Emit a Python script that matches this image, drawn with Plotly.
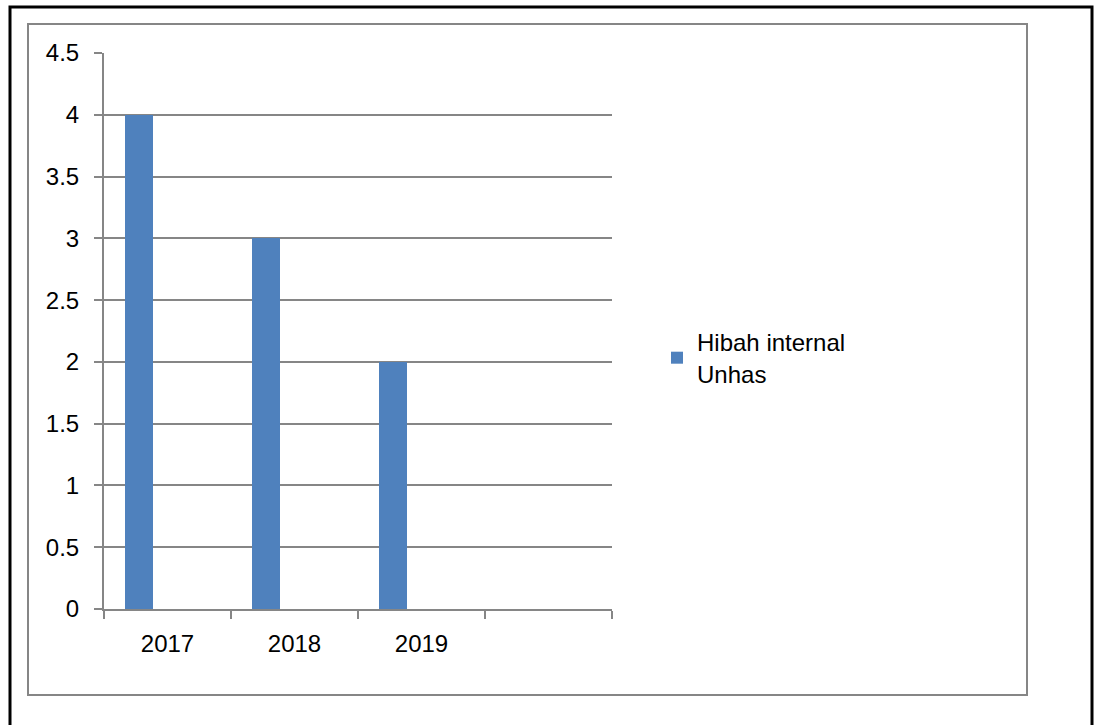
import plotly.graph_objects as go

years = ["2017", "2018", "2019"]
values = [4, 3, 2]
series_name = "Hibah internal<br>Unhas"
y_ticks = [0, 0.5, 1, 1.5, 2, 2.5, 3, 3.5, 4, 4.5]

W, H = 1095, 725
L, R, T, B = 104, 612, 53, 609

def px_x(p):
    return (p - L) / (R - L)

def px_y(p):
    return (B - p) / (B - T)

xpos = list(range(len(years)))

fig = go.Figure()
fig.add_trace(go.Bar(
    x=xpos, y=values, name=series_name,
    width=0.2222, offset=-0.3333,
    marker=dict(color="#4F81BD", line=dict(width=0)),
    showlegend=True,
))

grey = "#868686"
font = dict(family="Liberation Sans, Arial, sans-serif", size=24, color="#000000")

fig.update_layout(
    width=W, height=H,
    margin=dict(l=L, r=W - R, t=T, b=H - B, pad=0),
    paper_bgcolor="white", plot_bgcolor="white",
    font=font,
    bargap=0,
    showlegend=True,
    legend=dict(x=px_x(657), y=px_y(320), xanchor="left", yanchor="top",
                font=font, bgcolor="rgba(0,0,0,0)", itemwidth=30,
                tracegroupgap=0),
    xaxis=dict(
        range=[-0.5, 3.5], tickmode="array", tickvals=xpos, ticktext=years,
        ticks="", showgrid=False, zeroline=False,
        showline=True, linecolor=grey, linewidth=2,
        ticklabelstandoff=12,
        minor=dict(tickmode="array", tickvals=[-0.5, 0.5, 1.5, 2.5, 3.5],
                   ticks="outside", ticklen=8, tickcolor=grey, tickwidth=2,
                   showgrid=False),
        fixedrange=True,
    ),
    yaxis=dict(
        range=[0, 4.5], tickmode="array", tickvals=y_ticks,
        ticktext=[("%g" % v) for v in y_ticks],
        ticks="outside", ticklen=8, tickcolor=grey, tickwidth=2,
        showgrid=True, gridcolor=grey, gridwidth=2,
        zeroline=False, showline=True, linecolor=grey, linewidth=2,
        ticklabelstandoff=10,
        fixedrange=True,
    ),
    shapes=[
        dict(type="rect", xref="paper", yref="paper",
             x0=px_x(10), x1=px_x(1092), y0=px_y(740), y1=px_y(7),
             line=dict(color="#000000", width=3), layer="below"),
        dict(type="rect", xref="paper", yref="paper",
             x0=px_x(28), x1=px_x(1027), y0=px_y(695), y1=px_y(24),
             line=dict(color=grey, width=2), layer="below"),
    ],
)

fig.write_html("out.html")
